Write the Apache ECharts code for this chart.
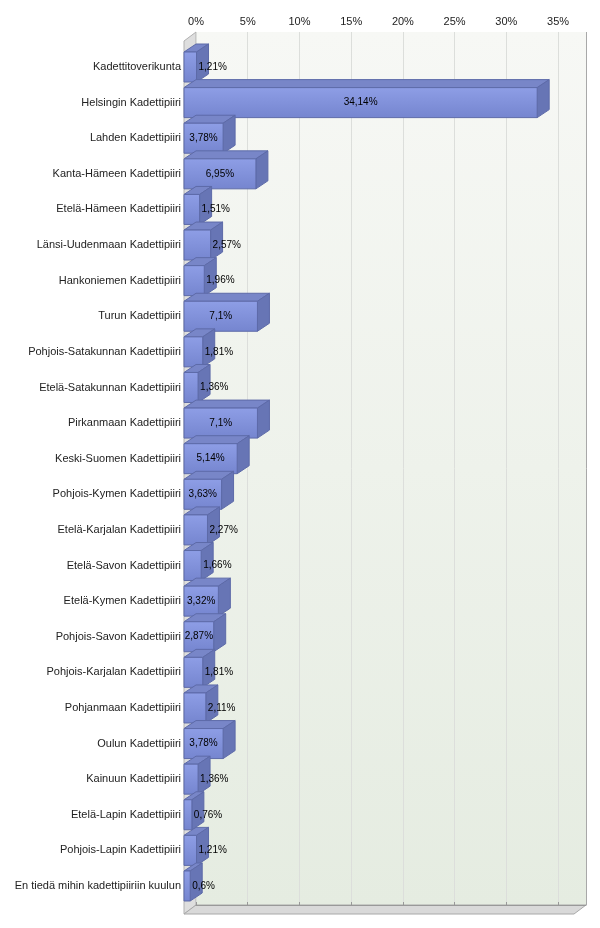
<!DOCTYPE html>
<html><head><meta charset="utf-8">
<script src="https://cdn.jsdelivr.net/npm/echarts@6/dist/echarts.min.js"></script>
<style>html,body{margin:0;padding:0;background:#fff}#c{width:600px;height:928px}</style>
</head><body><div id="c"></div>
<script>
const categories = [
  "Kadettitoverikunta","Helsingin Kadettipiiri","Lahden Kadettipiiri","Kanta-Hämeen Kadettipiiri",
  "Etelä-Hämeen Kadettipiiri","Länsi-Uudenmaan Kadettipiiri","Hankoniemen Kadettipiiri","Turun Kadettipiiri",
  "Pohjois-Satakunnan Kadettipiiri","Etelä-Satakunnan Kadettipiiri","Pirkanmaan Kadettipiiri","Keski-Suomen Kadettipiiri",
  "Pohjois-Kymen Kadettipiiri","Etelä-Karjalan Kadettipiiri","Etelä-Savon Kadettipiiri","Etelä-Kymen Kadettipiiri",
  "Pohjois-Savon Kadettipiiri","Pohjois-Karjalan Kadettipiiri","Pohjanmaan Kadettipiiri","Oulun Kadettipiiri",
  "Kainuun Kadettipiiri","Etelä-Lapin Kadettipiiri","Pohjois-Lapin Kadettipiiri","En tiedä mihin kadettipiiriin kuulun"
];
const values = [1.21,34.14,3.78,6.95,1.51,2.57,1.96,7.1,1.81,1.36,7.1,5.14,3.63,2.27,1.66,3.32,2.87,1.81,2.11,3.78,1.36,0.76,1.21,0.6];
const tickStep = 5;
const axisMax = 37.7;

// layout
const DX = 12, DY = -9;
const BACK = {left:196, top:32, width:390, bottom:905};
const FRONT = {left:BACK.left-DX, width:BACK.width};
const BAR_H = 30;

const mctx = document.createElement('canvas').getContext('2d');
const LABEL_FONT = '10px "Liberation Sans", Arial, sans-serif';
mctx.font = LABEL_FONT;
function fmt(v){ return String(v).replace('.', ',') + '%'; }

const chart = echarts.init(document.getElementById('c'), null, {renderer:'canvas'});
const fl = BACK.left - DX, fb = BACK.bottom - DY, fr = BACK.left + BACK.width - DX;
chart.setOption({
  animation:false,
  textStyle:{fontFamily:'"Liberation Sans", Arial, sans-serif'},
  graphic:[
    {type:'rect', z:-10, shape:{x:BACK.left, y:BACK.top, width:BACK.width, height:BACK.bottom-BACK.top},
     style:{fill:new echarts.graphic.LinearGradient(0,0,0,1,[{offset:0,color:'#f7f8f5'},{offset:1,color:'#e5ece1'}]), stroke:null}},
    {type:'polygon', z:-9, shape:{points:[[fl,BACK.top-DY],[BACK.left,BACK.top],[BACK.left,BACK.bottom],[fl,fb]]},
     style:{fill:'#dedede', stroke:'#b0b0b0', lineWidth:1}},
    {type:'polygon', z:-9, shape:{points:[[fl,fb],[BACK.left,BACK.bottom],[BACK.left+BACK.width,BACK.bottom],[fr,fb]]},
     style:{fill:'#d9d9d9', stroke:'#a8a8a8', lineWidth:1}},
    {type:'line', z:5, shape:{x1:BACK.left+BACK.width+0.5, y1:BACK.top, x2:BACK.left+BACK.width+0.5, y2:BACK.bottom},
     style:{stroke:'#a8a8a8', lineWidth:1}}
  ],
  grid:[
    {left:BACK.left, top:BACK.top, width:BACK.width, height:BACK.bottom-BACK.top, containLabel:false},
    {left:FRONT.left, top:49.2, width:FRONT.width, height:854.6, containLabel:false}
  ],
  xAxis:[
    {gridIndex:0, type:'value', position:'top', min:0, max:axisMax, interval:tickStep,
     axisLine:{show:true, lineStyle:{color:'#999'}},
     axisTick:{show:true, length:3, lineStyle:{color:'#999'}},
     axisLabel:{formatter:'{value}%', color:'#222', fontSize:11, margin:5, showMaxLabel:false},
     splitLine:{show:true, lineStyle:{color:'#dcdedb', width:1}}},
    {gridIndex:1, type:'value', min:0, max:axisMax, show:false}
  ],
  yAxis:[
    {gridIndex:0, type:'value', show:false},
    {gridIndex:1, type:'category', data:categories, inverse:true,
     axisLine:{show:false}, axisTick:{show:false},
     axisLabel:{color:'#222', fontSize:11, margin:3}}
  ],
  series:[{
    type:'custom', xAxisIndex:1, yAxisIndex:1,
    data: values.map((v,i)=>[v,i]),
    encode:{x:0, y:1},
    renderItem:function(params, api){
      const v = api.value(0), i = api.value(1);
      const p0 = api.coord([0,i]), p1 = api.coord([v,i]);
      const x0 = p0[0], x1 = p1[0], y0 = p0[1]-BAR_H/2;
      const dx = 12, dy = -8;
      const txt = fmt(v);
      const tw = mctx.measureText(txt).width;
      let tx, align;
      if (tw <= x1 - x0) { tx = (x0+x1)/2; align='center'; } else { tx = x1 + 2; align='left'; }
      return {type:'group', children:[
        {type:'polygon', shape:{points:[[x0,y0],[x1,y0],[x1+dx,y0+dy],[x0+dx,y0+dy]]},
         style:{fill:'#7886c8', stroke:'#5d6aa8', lineWidth:1}},
        {type:'polygon', shape:{points:[[x1,y0],[x1+dx,y0+dy],[x1+dx,y0+BAR_H+dy],[x1,y0+BAR_H]]},
         style:{fill:'#6775b5', stroke:'#5d6aa8', lineWidth:1}},
        {type:'rect', shape:{x:x0, y:y0, width:x1-x0, height:BAR_H},
         style:{fill:new echarts.graphic.LinearGradient(0,0,0,1,[{offset:0,color:'#8e9ee6'},{offset:1,color:'#7585cf'}]), stroke:'#5d6aa8', lineWidth:1}},
        {type:'text', z2:10, style:{text:txt, x:tx, y:y0+BAR_H/2, align:align, verticalAlign:'middle',
          font:LABEL_FONT, fill:'#000'}}
      ]};
    }
  }]
});
</script></body></html>
